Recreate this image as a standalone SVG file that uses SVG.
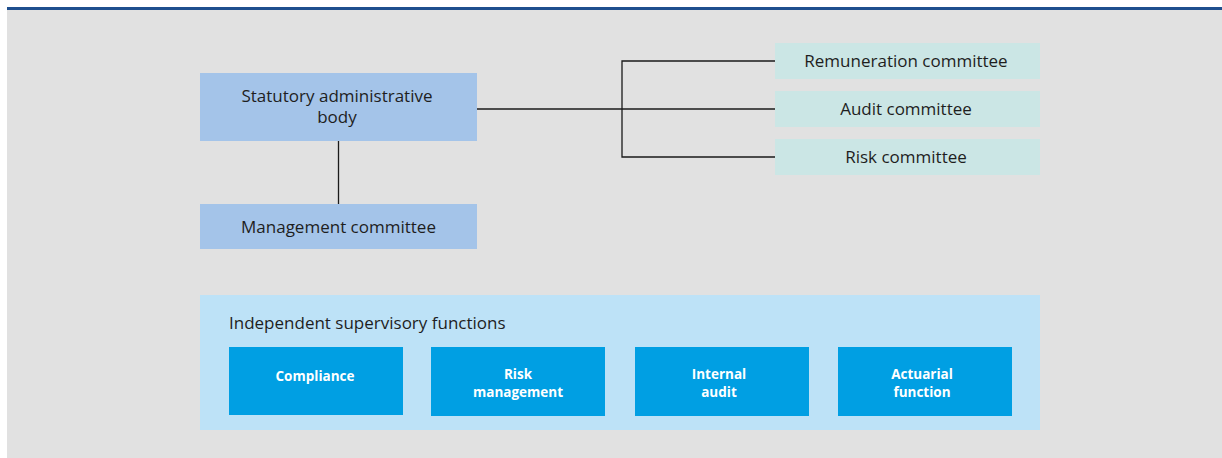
<svg xmlns="http://www.w3.org/2000/svg" width="1222" height="458" viewBox="0 0 1222 458">
<style>
.t{font-family:"Open Sans","Noto Sans","Liberation Sans",sans-serif;font-size:17px;fill:#1e1e1e;text-anchor:middle}
.b{font-family:"Open Sans","Noto Sans","Liberation Sans",sans-serif;font-size:13.5px;font-weight:bold;fill:#ffffff;text-anchor:middle}
.main{fill:#a4c4e9}
.com{fill:#cbe6e5}
.fn{fill:#009fe3}
.ln{stroke:#1a1a1a;stroke-width:1.3;fill:none}
</style>
<rect width="1222" height="458" fill="#ffffff"/>
<rect x="7" y="10" width="1215" height="448" fill="#e1e1e1"/>
<rect x="7" y="7" width="1215" height="3" fill="#1f4f8e"/>
<g id="connectors">
<line class="ln" x1="338.5" y1="141" x2="338.5" y2="204"/>
<line class="ln" x1="477" y1="109" x2="775" y2="109"/>
<polyline class="ln" points="775,61 622,61 622,157 775,157"/>
</g>
<g id="statutory">
<rect class="main" x="200" y="73" width="277" height="68"/>
<text class="t" x="337" y="102">Statutory administrative</text>
<text class="t" x="337" y="123">body</text>
</g>
<g id="management">
<rect class="main" x="200" y="204" width="277" height="45"/>
<text class="t" x="338.5" y="233">Management committee</text>
</g>
<g id="remuneration">
<rect class="com" x="775" y="43" width="265" height="36"/>
<text class="t" x="906" y="67">Remuneration committee</text>
</g>
<g id="audit">
<rect class="com" x="775" y="91" width="265" height="36"/>
<text class="t" x="906" y="115">Audit committee</text>
</g>
<g id="risk">
<rect class="com" x="775" y="139" width="265" height="36"/>
<text class="t" x="906" y="163">Risk committee</text>
</g>
<g id="independent">
<rect x="200" y="295" width="840" height="135" fill="#bde2f7"/>
<text class="t" x="229" y="329" style="text-anchor:start">Independent supervisory functions</text>
</g>
<g id="compliance">
<rect class="fn" x="229" y="347" width="174" height="68"/>
<text class="b" x="315" y="381">Compliance</text>
</g>
<g id="riskmanagement">
<rect class="fn" x="431" y="347" width="174" height="69"/>
<text class="b" x="518" y="379">Risk</text>
<text class="b" x="518" y="397">management</text>
</g>
<g id="internalaudit">
<rect class="fn" x="635" y="347" width="174" height="69"/>
<text class="b" x="719" y="379">Internal</text>
<text class="b" x="719" y="397">audit</text>
</g>
<g id="actuarial">
<rect class="fn" x="838" y="347" width="174" height="69"/>
<text class="b" x="922" y="379">Actuarial</text>
<text class="b" x="922" y="397">function</text>
</g>
</svg>
